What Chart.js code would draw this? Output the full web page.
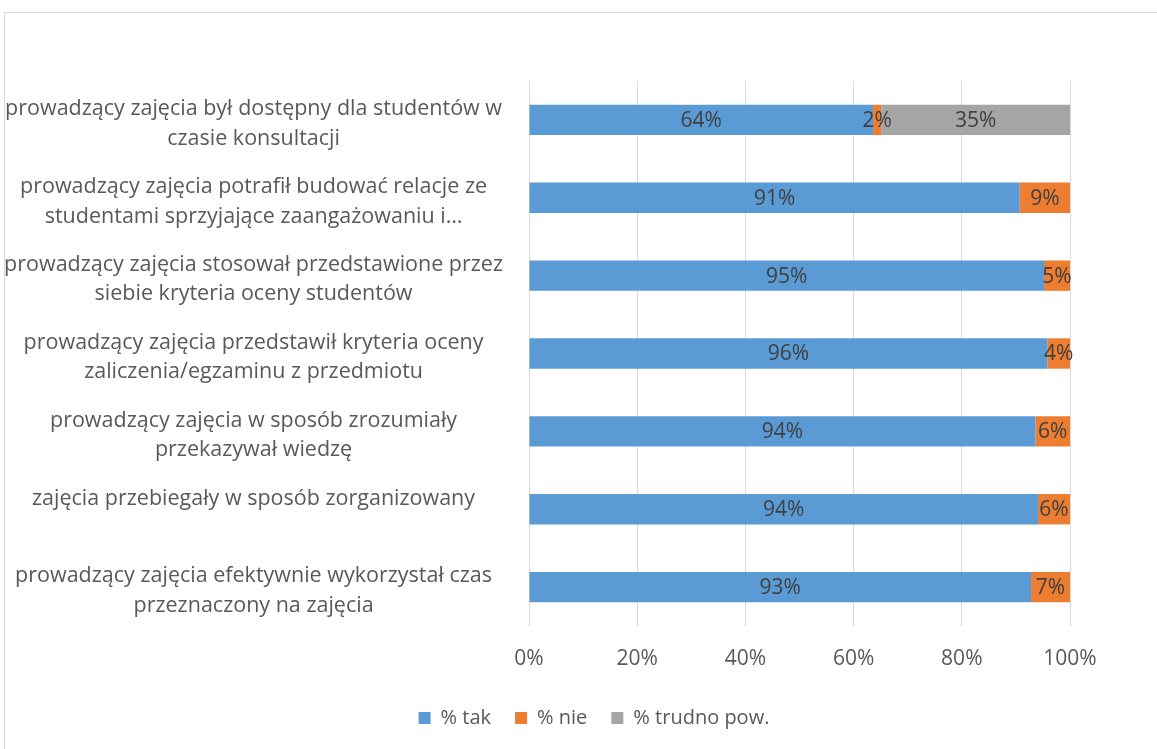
<!DOCTYPE html>
<html>
<head>
<meta charset="utf-8">
<script src="https://cdn.jsdelivr.net/npm/chart.js@4"></script>
<style>
    body { margin: 0; background: #fff; }
    #wrap { position: relative; width: 1157px; height: 749px; }
    #frame { position: absolute; left: 4px; top: 12px; width: 1160px; height: 760px; border: 1px solid #d9d9d9; box-sizing: border-box; }
    canvas { position: absolute; left: 0; top: 0; }
</style>
</head>
<body>
<div id="wrap">
    <div id="frame"></div>
    <canvas id="chartCanvas" width="1157" height="749"></canvas>
</div>
<script>
var categories = [
    ["prowadzący zajęcia był dostępny dla studentów w", "czasie konsultacji"],
    ["prowadzący zajęcia potrafił budować relacje ze", "studentami sprzyjające zaangażowaniu i…"],
    ["prowadzący zajęcia stosował przedstawione przez", "siebie kryteria oceny studentów"],
    ["prowadzący zajęcia przedstawił kryteria oceny", "zaliczenia/egzaminu z przedmiotu"],
    ["prowadzący zajęcia w sposób zrozumiały", "przekazywał wiedzę"],
    ["zajęcia przebiegały w sposób zorganizowany", ""],
    ["prowadzący zajęcia efektywnie wykorzystał czas", "przeznaczony na zajęcia"]
];
var takValues = [63.6, 90.7, 95.2, 95.8, 93.6, 94.1, 92.8];
var nieValues = [1.5, 9.3, 4.8, 4.2, 6.4, 5.9, 7.2];
var trudnoValues = [34.9, 0, 0, 0, 0, 0, 0];
var xTicks = [0, 20, 40, 60, 80, 100];

var fontFamily = "'Open Sans', sans-serif";

// draws the rounded percentage in the middle of each segment
var barLabels = {
    id: 'barLabels',
    afterDatasetsDraw: function (chart) {
        var ctx = chart.ctx;
        ctx.save();
        ctx.font = "21px " + fontFamily;
        ctx.fillStyle = '#404040';
        ctx.textAlign = 'center';
        ctx.textBaseline = 'middle';
        chart.data.datasets.forEach(function (ds, i) {
            chart.getDatasetMeta(i).data.forEach(function (bar, j) {
                var v = ds.data[j];
                if (!v) return;
                var cx = (bar.x + bar.base) / 2;
                ctx.fillText(Math.round(v) + '%', cx, bar.y + 1);
            });
        });
        ctx.restore();
    }
};

// legend sits under the plot area rather than under the whole canvas
var shiftLegend = {
    id: 'shiftLegend',
    afterLayout: function (chart) {
        chart.legend.left += 118;
    }
};

var ctx = document.getElementById('chartCanvas').getContext('2d');
var myChart = new Chart(ctx, {
    type: 'bar',
    data: {
        labels: categories,
        datasets: [
            { label: '% tak', data: takValues, backgroundColor: '#5b9bd5' },
            { label: '% nie', data: nieValues, backgroundColor: '#ed7d31' },
            { label: '% trudno pow.', data: trudnoValues, backgroundColor: '#a5a5a5' }
        ]
    },
    options: {
        indexAxis: 'y',
        responsive: false,
        animation: false,
        categoryPercentage: 0.39,
        barPercentage: 1,
        layout: { padding: { left: 0, right: 87, top: 81, bottom: 11 } },
        scales: {
            x: {
                stacked: true,
                min: 0,
                max: 100,
                afterBuildTicks: function (scale) {
                    scale.ticks = xTicks.map(function (v) { return { value: v }; });
                },
                afterFit: function (scale) { scale.height = 58; },
                grid: { color: '#d9d9d9', lineWidth: 1, drawTicks: false },
                border: { display: false },
                ticks: {
                    color: '#595959',
                    font: { family: fontFamily, size: 21 },
                    padding: 20,
                    callback: function (v) { return v + '%'; }
                }
            },
            y: {
                stacked: true,
                afterFit: function (scale) { scale.width = 529; },
                grid: { display: false, drawTicks: false },
                border: { display: false },
                ticks: {
                    color: '#595959',
                    crossAlign: 'center',
                    padding: 26,
                    labelOffset: 4,
                    font: { family: fontFamily, size: 21.5, lineHeight: 1.37 }
                }
            }
        },
        plugins: {
            legend: {
                position: 'bottom',
                labels: {
                    color: '#595959',
                    font: { family: fontFamily, size: 20 },
                    boxWidth: 12,
                    boxHeight: 12,
                    padding: 24
                }
            },
            tooltip: { enabled: false }
        }
    },
    plugins: [barLabels, shiftLegend]
});
</script>
</body>
</html>
